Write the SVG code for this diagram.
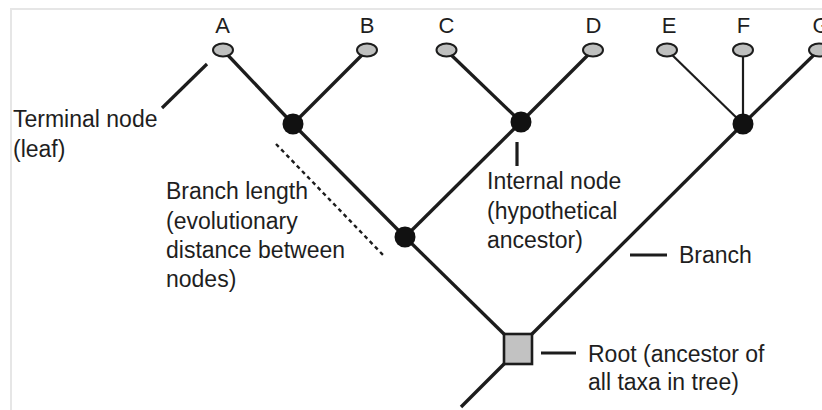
<svg xmlns="http://www.w3.org/2000/svg" width="822" height="410" viewBox="0 0 822 410">
  <style>
    .frame { fill: none; stroke: #e6e6e6; stroke-width: 2; }
    .branch { stroke: #1c1c1c; stroke-width: 3.3; stroke-linecap: butt; fill: none; }
    .thin { stroke: #1c1c1c; stroke-width: 2.2; fill: none; }
    .pointer { stroke: #1c1c1c; stroke-width: 3.2; fill: none; }
    .dotted { stroke: #1c1c1c; stroke-width: 2.4; stroke-dasharray: 4 3.5; fill: none; }
    .leaf { fill: #bfc0bf; stroke: #1c1c1c; stroke-width: 2; }
    .inner { fill: #111; }
    .root { fill: #c2c2c2; stroke: #1c1c1c; stroke-width: 2.6; }
    .taxon { font-family: "Liberation Sans", Arial, sans-serif; font-size: 22px; fill: #1e1e1e; text-anchor: middle; }
    .note { font-family: "Liberation Sans", Arial, sans-serif; font-size: 23px; fill: #1e1e1e; }
  </style>

  <!-- panel border -->
  <polyline class="frame" points="11,412 11,9 824,9"/>

  <!-- connectors: branches of the tree -->
  <g id="connectors">
    <line class="branch" x1="223" y1="50" x2="293" y2="124"/>
    <line class="branch" x1="367" y1="50" x2="293" y2="124"/>
    <line class="branch" x1="446" y1="50" x2="521" y2="122"/>
    <line class="branch" x1="593" y1="50" x2="521" y2="122"/>
    <line class="thin" x1="667" y1="50" x2="743" y2="124"/>
    <line class="thin" x1="743" y1="50" x2="743" y2="124"/>
    <line class="branch" x1="819" y1="50" x2="743" y2="124"/>
    <line class="branch" x1="293" y1="124" x2="405" y2="237"/>
    <line class="branch" x1="521" y1="122" x2="405" y2="237"/>
    <line class="branch" x1="405" y1="237" x2="505" y2="335"/>
    <line class="branch" x1="531" y1="335" x2="743" y2="124"/>
    <line class="branch" x1="505" y1="363" x2="461" y2="407"/>
  </g>

  <!-- leaves -->
  <g id="leaf-A"><ellipse class="leaf" cx="223" cy="50" rx="10" ry="6.5"/><text class="taxon" x="222.5" y="33">A</text></g>
  <g id="leaf-B"><ellipse class="leaf" cx="367" cy="50" rx="10" ry="6.5"/><text class="taxon" x="367" y="33">B</text></g>
  <g id="leaf-C"><ellipse class="leaf" cx="446.5" cy="50" rx="10" ry="6.5"/><text class="taxon" x="446.5" y="33">C</text></g>
  <g id="leaf-D"><ellipse class="leaf" cx="593" cy="50" rx="10" ry="6.5"/><text class="taxon" x="593.5" y="33">D</text></g>
  <g id="leaf-E"><ellipse class="leaf" cx="667" cy="50" rx="10" ry="6.5"/><text class="taxon" x="669" y="33">E</text></g>
  <g id="leaf-F"><ellipse class="leaf" cx="743" cy="50" rx="10" ry="6.5"/><text class="taxon" x="743.5" y="33">F</text></g>
  <g id="leaf-G"><ellipse class="leaf" cx="819" cy="50" rx="10" ry="6.5"/><text class="taxon" x="821" y="33">G</text></g>

  <!-- internal nodes -->
  <g id="node-AB"><circle class="inner" cx="293" cy="124" r="10.5"/></g>
  <g id="node-CD"><circle class="inner" cx="521" cy="122" r="10.5"/></g>
  <g id="node-EFG"><circle class="inner" cx="743" cy="124" r="10.5"/></g>
  <g id="node-ABCD"><circle class="inner" cx="405" cy="237" r="10.5"/></g>

  <!-- root -->
  <g id="root"><rect class="root" x="504" y="334" width="28" height="30"/></g>

  <!-- annotations -->
  <g id="label-terminal">
    <line class="pointer" x1="207" y1="64" x2="162" y2="108"/>
    <text class="note" x="13" y="126.5">Terminal node</text>
    <text class="note" x="13" y="156.5">(leaf)</text>
  </g>
  <g id="label-branch-length">
    <line class="dotted" x1="276" y1="144" x2="385" y2="257"/>
    <text class="note" x="166" y="199">Branch length</text>
    <text class="note" x="166" y="228.5">(evolutionary</text>
    <text class="note" x="166" y="258">distance between</text>
    <text class="note" x="166" y="287">nodes)</text>
  </g>
  <g id="label-internal">
    <line class="pointer" x1="517" y1="142" x2="517" y2="166"/>
    <text class="note" x="487" y="189">Internal node</text>
    <text class="note" x="487" y="219">(hypothetical</text>
    <text class="note" x="487" y="248">ancestor)</text>
  </g>
  <g id="label-branch">
    <line class="pointer" x1="630" y1="255" x2="667" y2="255"/>
    <text class="note" x="679" y="263">Branch</text>
  </g>
  <g id="label-root">
    <line class="pointer" x1="541" y1="353" x2="576" y2="353"/>
    <text class="note" x="588" y="362">Root (ancestor of</text>
    <text class="note" x="588" y="390">all taxa in tree)</text>
  </g>
</svg>
